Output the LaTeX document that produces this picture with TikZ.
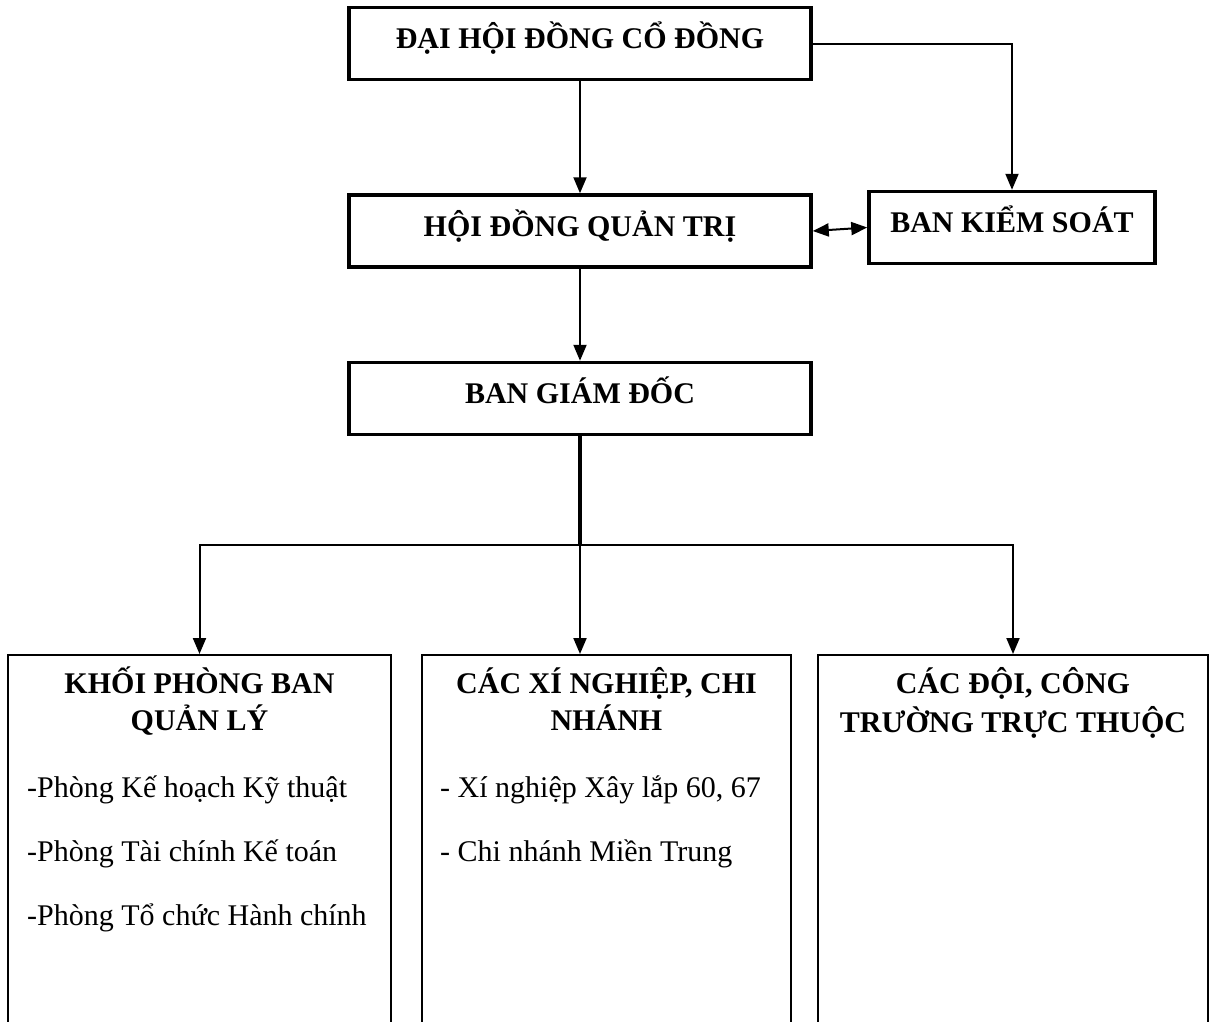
\documentclass[tikz,border=0pt]{standalone}
\usepackage{fontspec}
\setmainfont{Liberation Serif}
\usetikzlibrary{arrows.meta}
\newcommand{\TieuDe}[4]{%
  \node[anchor=base,inner sep=0pt,font=\fontsize{30}{36}\selectfont\bfseries] (#1) at (#2,#3) {#4};%
}
\newcommand{\MucCon}[4]{%
  \node[anchor=base west,inner sep=0pt,font=\fontsize{30}{36}\selectfont] (#1) at (#2,#3) {#4};%
}

\begin{document}
\begin{tikzpicture}[x=1pt,y=-1pt,
  khung/.style={draw,line width=3.5pt,inner sep=0pt,minimum height=72pt,
    text height=24pt,text depth=14pt,font=\fontsize{30}{36}\selectfont\bfseries},
  khoi/.style={draw,line width=1.6pt,inner sep=0pt,minimum height=420pt,anchor=north},
  noi/.style={line width=2pt,-{Triangle[length=16pt,width=13pt]}}]
\clip (0,0) rectangle (1210,1021);
% cac cap lanh dao
\node[khung,minimum width=462pt] (dhcd) at (580,43.5) {ĐẠI HỘI ĐỒNG CỔ ĐỒNG};
\node[khung,minimum width=462pt] (hdqt) at (580,231) {HỘI ĐỒNG QUẢN TRỊ};
\node[khung,minimum width=286pt] (bks) at (1012,227.5) {BAN KIỂM SOÁT};
\node[khung,minimum width=462pt] (bgd) at (580,398.5) {BAN GIÁM ĐỐC};
% cac khoi truc thuoc
\node[khoi,minimum width=383pt] (kpb) at (199.5,654) {};
\node[khoi,minimum width=369pt] (kxn) at (606.5,654) {};
\node[khoi,minimum width=390pt] (kdoi) at (1013,654) {};
\coordinate (re) at (580,545);
% mui ten
\draw[noi] (dhcd) -- (hdqt);
\draw[noi] (dhcd.east) -| (bks.north);
\draw[noi,{Triangle[length=16pt,width=13pt]}-{Triangle[length=16pt,width=13pt]}] (hdqt.east) -- (bks.west);
\draw[noi] (hdqt) -- (bgd);
\draw[line width=3.2pt] (bgd.south) -- (re);
\draw[noi] (re) -| (kpb.north);
\draw[noi] (re) -| (kdoi.north);
\draw[noi] (re) -- (re |- kxn.north);
% noi dung cac khoi
\TieuDe{pb1}{199.5}{693}{KHỐI PHÒNG BAN}
\TieuDe{pb2}{199.5}{730}{QUẢN LÝ}
\TieuDe{xn1}{606.5}{693}{CÁC XÍ NGHIỆP, CHI}
\TieuDe{xn2}{606.5}{730}{NHÁNH}
\TieuDe{doi1}{1013}{693}{CÁC ĐỘI, CÔNG}
\TieuDe{doi2}{1013}{732}{TRƯỜNG TRỰC THUỘC}
\foreach \y/\t [count=\i] in {797/-Phòng Kế hoạch Kỹ thuật,861/-Phòng Tài chính Kế toán,925/-Phòng Tổ chức Hành chính} {
  \MucCon{pb\i}{27}{\y}{\t}
}
\MucCon{xn3}{440}{797}{- Xí nghiệp Xây lắp 60, 67}
\MucCon{xn4}{440}{861}{- Chi nhánh Miền Trung}
\end{tikzpicture}
\end{document}
